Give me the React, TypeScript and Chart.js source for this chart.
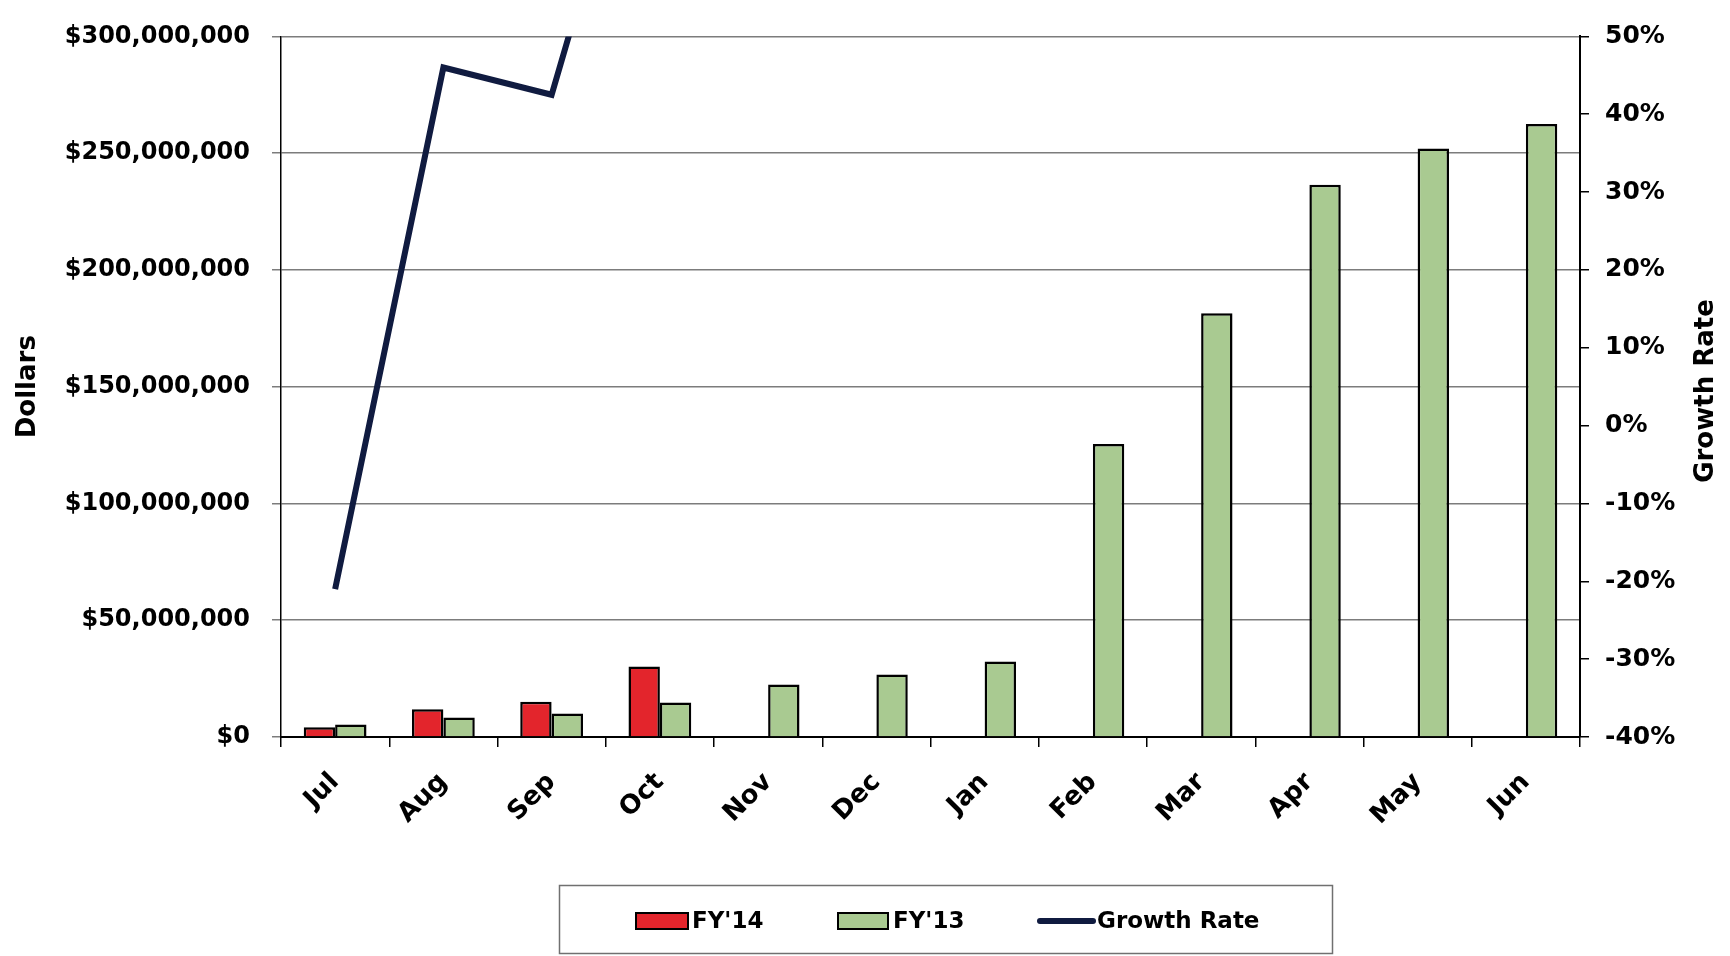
import React, { useEffect, useRef } from "react";
import { Chart, registerables } from "chart.js";

Chart.register(...registerables);

const months = ["Jul", "Aug", "Sep", "Oct", "Nov", "Dec", "Jan", "Feb", "Mar", "Apr", "May", "Jun"];
const fy14Values = [4200000, 11900000, 15100000, 30200000, null, null, null, null, null, null, null, null];
const fy13Values = [5400000, 8300000, 10100000, 14800000, 22500000, 26800000, 32300000, 125500000, 181500000, 236500000, 252000000, 262500000];
const growthRateValues = [-21, 46, 42.5, 90, null, null, null, null, null, null, null, null];
const dollarRange = [0, 300000000, 50000000];
const rateRange = [-40, 50, 10];

const seriesLabels = ["FY'14", "FY'13", "Growth Rate"];
const RED = "#e3252c";
const GREEN = "#a9ca91";
const NAVY = "#101b40";
const FONT = "'DejaVu Sans', 'Liberation Sans', Arial, sans-serif";

const extrasPlugin = {
  id: "extras",
  afterDraw(chart: any) {
    const ctx = chart.ctx as CanvasRenderingContext2D;
    const ds = chart.data.datasets;
    ctx.save();
    // right axis title (reads bottom to top)
    ctx.fillStyle = "#000";
    ctx.font = `bold 26px ${FONT}`;
    ctx.textAlign = "center";
    ctx.textBaseline = "middle";
    ctx.translate(1706, 391);
    ctx.rotate(-Math.PI / 2);
    ctx.fillText("Growth Rate", 0, 0);
    ctx.restore();

    // legend box
    ctx.save();
    ctx.strokeStyle = "#707070";
    ctx.lineWidth = 1.5;
    ctx.strokeRect(559.5, 885.5, 773, 68);
    ctx.font = `bold 23px ${FONT}`;
    ctx.textAlign = "left";
    ctx.textBaseline = "middle";
    const cy = 921;
    // FY'14
    ctx.fillStyle = ds[0].backgroundColor;
    ctx.fillRect(636, 913, 52, 16);
    ctx.strokeStyle = "#000";
    ctx.lineWidth = 2;
    ctx.strokeRect(636, 913, 52, 16);
    ctx.fillStyle = "#000";
    ctx.fillText(ds[0].label, 692, cy + 1);
    // FY'13
    ctx.fillStyle = ds[1].backgroundColor;
    ctx.fillRect(838, 913, 50, 16);
    ctx.strokeRect(838, 913, 50, 16);
    ctx.fillStyle = "#000";
    ctx.fillText(ds[1].label, 893, cy + 1);
    // Growth rate line
    ctx.strokeStyle = ds[2].borderColor;
    ctx.lineWidth = 6;
    ctx.lineCap = "round";
    ctx.beginPath();
    ctx.moveTo(1040, cy);
    ctx.lineTo(1093, cy);
    ctx.stroke();
    ctx.fillStyle = "#000";
    ctx.fillText(ds[2].label, 1097, cy + 1);
    ctx.restore();
  },
};

export default function App() {
  const ref = useRef<HTMLCanvasElement | null>(null);

  useEffect(() => {
    if (!ref.current) return;
    const chart = new Chart(ref.current, {
      type: "bar",
      data: {
        labels: months,
        datasets: [
          {
            type: "bar",
            label: seriesLabels[0],
            data: fy14Values,
            backgroundColor: RED,
            borderColor: "#000",
            borderWidth: 2.5,
            yAxisID: "y",
            order: 1,
          },
          {
            type: "bar",
            label: seriesLabels[1],
            data: fy13Values,
            backgroundColor: GREEN,
            borderColor: "#000",
            borderWidth: 2.5,
            yAxisID: "y",
            order: 1,
          },
          {
            type: "line",
            label: seriesLabels[2],
            data: growthRateValues,
            borderColor: NAVY,
            backgroundColor: NAVY,
            borderWidth: 6,
            pointRadius: 0,
            borderJoinStyle: "miter",
            yAxisID: "y1",
            order: 0,
          },
        ] as any,
      },
      options: {
        responsive: false,
        animation: false,
        devicePixelRatio: 1,
        layout: { padding: { top: 30, left: 0, right: 0, bottom: 0 } },
        datasets: { bar: { categoryPercentage: 0.58, barPercentage: 1 } } as any,
        plugins: {
          legend: { display: false },
          tooltip: { enabled: false },
        },
        scales: {
          x: {
            offset: true,
            grid: {
              display: true,
              drawOnChartArea: false,
              offset: true,
              color: "#000",
              lineWidth: 1.5,
              tickLength: 10,
            },
            border: { display: true, color: "#000", width: 2 },
            ticks: {
              maxRotation: 45,
              minRotation: 45,
              color: "#000",
              padding: 20,
              font: { family: FONT, size: 26, weight: "bold" },
            },
            afterFit(scale: any) {
              scale.height = 219;
            },
          },
          y: {
            position: "left",
            min: dollarRange[0],
            max: dollarRange[1],
            ticks: {
              stepSize: dollarRange[2],
              color: "#000",
              padding: 22,
              font: { family: FONT, size: 24, weight: "bold" },
              callback: (v: any) => "$" + Number(v).toLocaleString("en-US"),
            },
            grid: { color: "#7c7c7c", lineWidth: 1.5, tickLength: 9 },
            border: { display: true, color: "#000", width: 1.5 },
            title: {
              display: true,
              text: "Dollars",
              color: "#000",
              padding: { top: 13, bottom: 0 },
              font: { family: FONT, size: 26, weight: "bold" },
            },
            afterFit(scale: any) {
              scale.width = 281;
            },
          },
          y1: {
            position: "right",
            min: rateRange[0],
            max: rateRange[1],
            ticks: {
              stepSize: rateRange[2],
              color: "#000",
              padding: 16,
              font: { family: FONT, size: 25, weight: "bold" },
              callback: (v: any) => v + "%",
            },
            grid: { drawOnChartArea: false, color: "#000", lineWidth: 1.5, tickLength: 9 },
            border: { display: true, color: "#000", width: 2 },
            afterFit(scale: any) {
              scale.width = 150;
            },
          },
        },
      } as any,
      plugins: [extrasPlugin],
    });
    return () => chart.destroy();
  }, []);

  return (
    <div style={{ position: "absolute", left: 0, top: 0, width: 1730, height: 956, background: "#fff" }}>
      <canvas ref={ref} width={1730} height={956} style={{ display: "block" }} />
    </div>
  );
}
